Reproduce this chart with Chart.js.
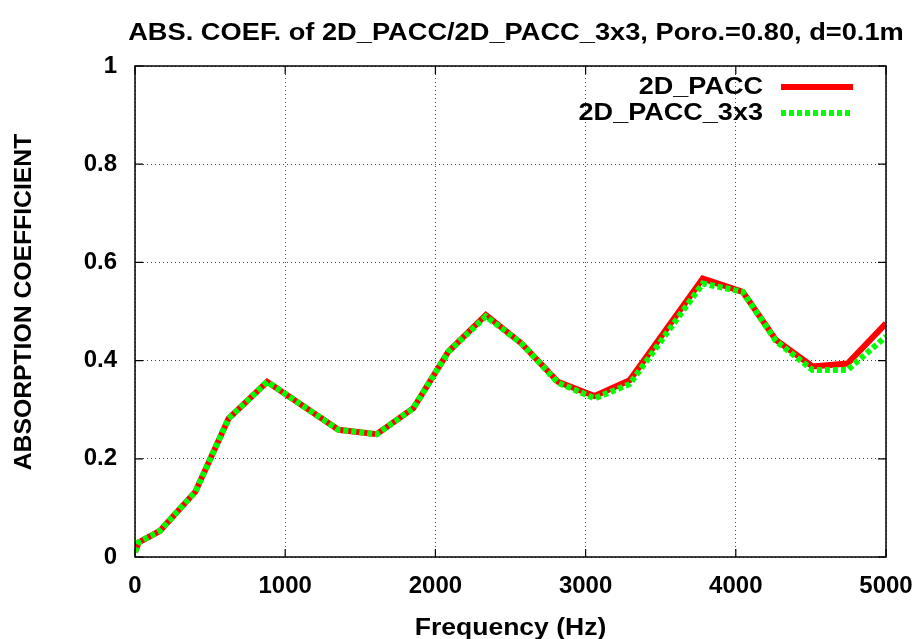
<!DOCTYPE html>
<html>
<head>
<meta charset="utf-8">
<script src="https://cdn.jsdelivr.net/npm/chart.js@4/dist/chart.umd.min.js"></script>
<style>
  html, body { margin: 0; padding: 0; background: #fff; }
  #c { display: block; }
</style>
</head>
<body>
<canvas id="c" width="920" height="639"></canvas>
<script>
const titleText = "ABS. COEF. of 2D_PACC/2D_PACC_3x3, Poro.=0.80, d=0.1m";
const xTitle = "Frequency (Hz)";
const yTitle = "ABSORPTION COEFFICIENT";
const seriesNames = ["2D_PACC", "2D_PACC_3x3"];
const frequencies = [0, 25, 165, 402, 623, 880, 1355, 1609, 1853, 2086, 2336, 2573, 2816, 3060, 3293, 3780, 4046, 4267, 4511, 4744, 5000];
const pacc =        [0.01, 0.03, 0.053, 0.133, 0.282, 0.357, 0.259, 0.25, 0.303, 0.418, 0.493, 0.435, 0.357, 0.328, 0.36, 0.567, 0.54, 0.442, 0.388, 0.394, 0.476];
const pacc3x3 =     [0.01, 0.03, 0.053, 0.133, 0.282, 0.357, 0.259, 0.25, 0.303, 0.418, 0.49, 0.435, 0.355, 0.323, 0.352, 0.557, 0.54, 0.44, 0.381, 0.381, 0.449];
const xTicks = [0, 1000, 2000, 3000, 4000, 5000];
const yTicks = [0, 0.2, 0.4, 0.6, 0.8, 1];

const FONT = "'Liberation Sans', Arial, Helvetica, sans-serif";
const toPts = (xs, ys) => xs.map((x, i) => ({ x: x, y: ys[i] }));

function wrapDraw(obj, name, fn) {
  if (!obj || obj['__wrapped_' + name]) return;
  const orig = obj[name];
  obj[name] = function () {
    const ctx = this.ctx || this.chart.ctx;
    ctx.save();
    fn(ctx, this);
    const r = orig.apply(this, arguments);
    ctx.restore();
    return r;
  };
  obj['__wrapped_' + name] = true;
}

const textPlugin = {
  id: 'textTweaks',
  afterUpdate(chart) {
    // horizontally widened lettering, as in the reference
    wrapDraw(chart.titleBlock, 'draw', (ctx, box) => {
      const c = (box.left + box.right) / 2;
      ctx.translate(516, 0); ctx.scale(1.135, 1); ctx.translate(-c, 0);
    });
    wrapDraw(chart.scales.x, 'drawTitle', (ctx, s) => {
      const c = (s.left + s.right) / 2;
      ctx.translate(c, 0); ctx.scale(1.105, 1); ctx.translate(-c, 0);
    });
    wrapDraw(chart.scales.y, 'drawTitle', (ctx, s) => {
      const c = (s.top + s.bottom) / 2;
      ctx.translate(0, 302); ctx.scale(1, 1.03); ctx.translate(0, -c);
    });
  }
};

const framePlugin = {
  id: 'frame',
  afterDatasetsDraw(chart) {
    const { ctx, chartArea: a, scales } = chart;
    ctx.save();
    ctx.strokeStyle = '#000';
    ctx.lineWidth = 1.5;
    ctx.setLineDash([]);
    ctx.strokeRect(a.left, a.top, a.right - a.left, a.bottom - a.top);
    const tl = 8;
    ctx.lineWidth = 1.2;
    ctx.beginPath();
    xTicks.forEach(v => {
      const px = scales.x.getPixelForValue(v);
      ctx.moveTo(px, a.bottom); ctx.lineTo(px, a.bottom - tl);
      ctx.moveTo(px, a.top); ctx.lineTo(px, a.top + tl);
    });
    yTicks.forEach(v => {
      const py = scales.y.getPixelForValue(v);
      ctx.moveTo(a.left, py); ctx.lineTo(a.left + tl, py);
      ctx.moveTo(a.right, py); ctx.lineTo(a.right - tl, py);
    });
    ctx.stroke();

    // legend (inside, top right)
    const ds = chart.data.datasets;
    const ys = [87, 113];
    ctx.textAlign = 'right';
    ctx.textBaseline = 'middle';
    ctx.fillStyle = '#000';
    seriesNames.forEach((name, k) => {
      const d = ds.find(s => s.label === name);
      ctx.save();
      ctx.font = "bold 24px " + FONT;
      ctx.translate(763, ys[k]);
      ctx.scale(1.127, 1);
      ctx.fillText(d.label, 0, 0);
      ctx.restore();
      ctx.beginPath();
      ctx.strokeStyle = d.borderColor;
      ctx.lineWidth = d.borderWidth;
      ctx.setLineDash(d.borderDash || []);
      ctx.moveTo(781, ys[k]);
      ctx.lineTo(853, ys[k]);
      ctx.stroke();
    });
    ctx.restore();
  }
};

new Chart(document.getElementById('c'), {
  type: 'line',
  data: {
    datasets: [
      {
        label: seriesNames[0],
        data: toPts(frequencies, pacc),
        borderColor: '#ff0000',
        borderWidth: 6,
        pointRadius: 0,
        tension: 0,
        fill: false,
        order: 2
      },
      {
        label: seriesNames[1],
        data: toPts(frequencies, pacc3x3),
        borderColor: '#00ff00',
        borderWidth: 6,
        borderDash: [5, 3],
        pointRadius: 0,
        tension: 0,
        fill: false,
        order: 1
      }
    ]
  },
  options: {
    responsive: false,
    animation: false,
    devicePixelRatio: 1,
    layout: { padding: { left: 0, right: 34, top: 0, bottom: 0 } },
    plugins: {
      legend: { display: false },
      tooltip: { enabled: false },
      title: {
        display: true,
        text: titleText,
        color: '#000',
        font: { family: FONT, size: 24, weight: 'bold', lineHeight: 1.25 },
        padding: { top: 18, bottom: 18 }
      }
    },
    scales: {
      x: {
        type: 'linear',
        min: 0, max: 5000,
        afterBuildTicks(s) { s.ticks = xTicks.map(v => ({ value: v })); },
        afterFit(s) { s.height = 82; s.paddingRight = 0; s.paddingLeft = 0; },
        ticks: {
          color: '#000',
          font: { family: FONT, size: 24, weight: 'bold' },
          padding: 15,
          maxRotation: 0,
          callback: v => String(v)
        },
        grid: { color: '#444', lineWidth: 1, drawTicks: false },
        border: { display: false, dash: [1, 3] },
        title: {
          display: true, text: xTitle, color: '#000',
          font: { family: FONT, size: 24, weight: 'bold', lineHeight: 0.9 },
          padding: { top: 0, bottom: 0 }
        }
      },
      y: {
        type: 'linear',
        min: 0, max: 1,
        afterBuildTicks(s) { s.ticks = yTicks.map(v => ({ value: v })); },
        afterFit(s) { s.width = 135; },
        ticks: {
          color: '#000',
          font: { family: FONT, size: 24, weight: 'bold' },
          padding: 18,
          callback: v => String(Math.round(v * 10) / 10)
        },
        grid: { color: '#444', lineWidth: 1, drawTicks: false },
        border: { display: false, dash: [1, 3] },
        title: {
          display: true, text: yTitle, color: '#000',
          font: { family: FONT, size: 24, weight: 'bold', lineHeight: 1.2 },
          padding: { top: 10, bottom: 0 }
        }
      }
    }
  },
  plugins: [textPlugin, framePlugin]
});
</script>
</body>
</html>
